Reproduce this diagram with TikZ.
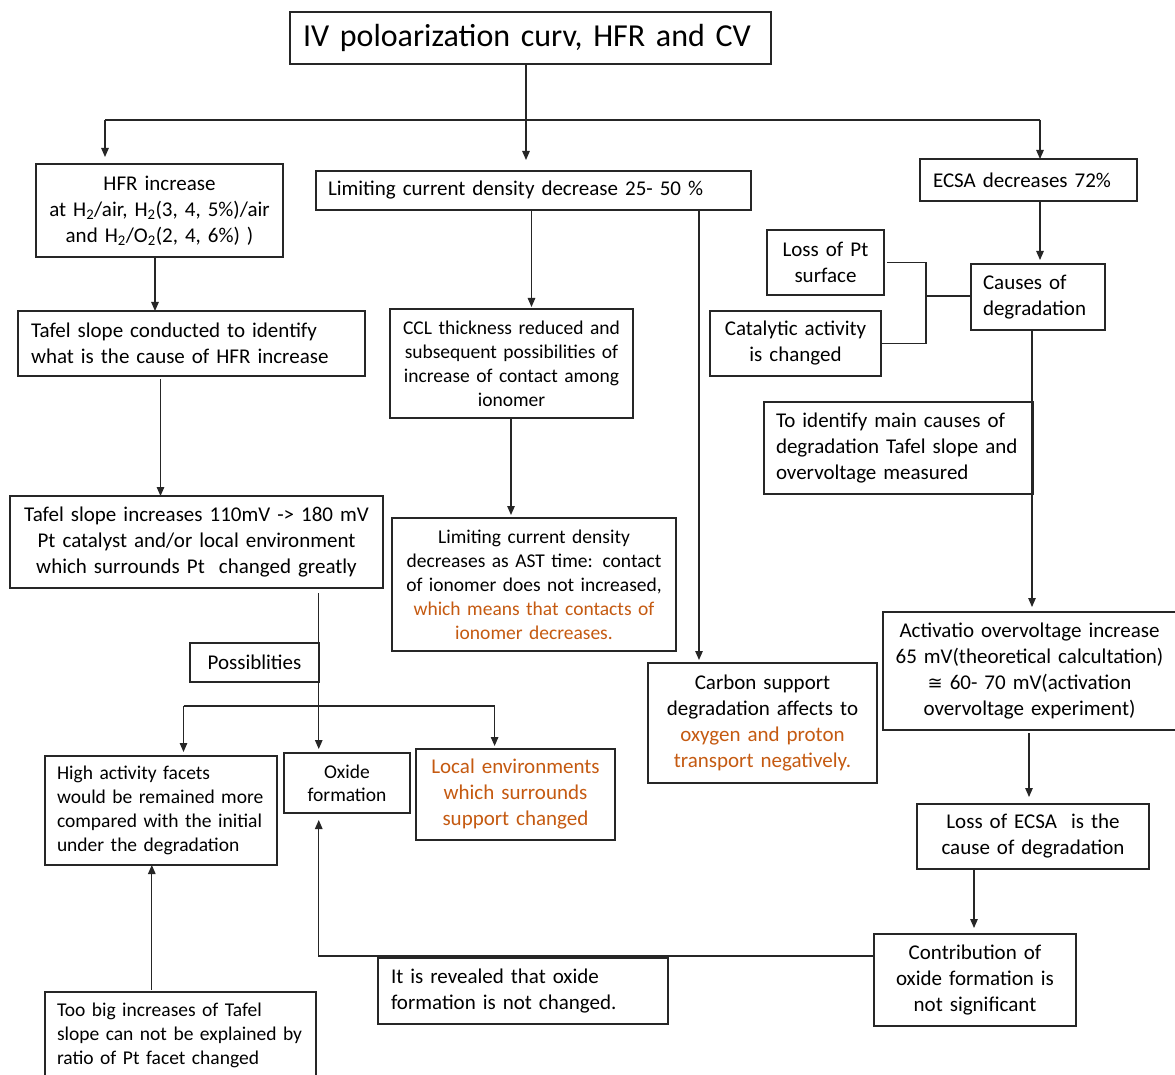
\documentclass[tikz,border=0pt]{standalone}
\usepackage{fontspec}
\setmainfont{Carlito}
\newfontfamily\djv{DejaVu Sans}
\usetikzlibrary{arrows.meta}
\definecolor{orng}{HTML}{C55A11}
\newcommand\fmain{\fontsize{21}{26}\selectfont}
\newcommand\fsmall{\fontsize{19.5}{24}\selectfont}
\newcommand\ftitle{\fontsize{32}{38}\selectfont}
\newcommand\fox{\fontsize{19.5}{23}\selectfont}
\newcommand\bx[9]{%
  \pgfmathsetmacro\bxw{#4-#2}%
  \pgfmathsetmacro\bxh{#5-#3}%
  \pgfmathsetmacro\bxt{#4-#2-2*#6}%
  \node[box,minimum width=\bxw pt,minimum height=\bxh pt,text width=\bxt pt,align=#7,font=#8] (#1) at (#2,#3) {#9};}
\begin{document}
\begin{tikzpicture}[x=1pt,y=-1pt,
  box/.style={draw=black!85,line width=1.2pt,inner sep=0pt,outer sep=0pt,anchor=north west,text=black},
  ln/.style={draw=black!85,line width=1.2pt},
  arr/.style={ln,-{Triangle[length=9pt,width=7.5pt]}}]
\fill[white] (0,0) rectangle (1175,1075);
\useasboundingbox (0,0) rectangle (1175,1075);

\bx{title}{290}{12}{771}{64}{13}{left}{\ftitle}{IV poloarization curv, HFR and CV}
\bx{hfr}{36}{164}{283}{257}{2}{center}{\fmain}{HFR increase\\at H\textsubscript{2}/air, H\textsubscript{2}(3, 4, 5\%)/air\\and H\textsubscript{2}/O\textsubscript{2}(2, 4, 6\%) )}
\bx{lim}{316}{171}{751}{210}{12}{left}{\fmain}{Limiting current density decrease 25- 50 \%}
\bx{ecsa}{920}{159}{1137}{201}{13}{left}{\fmain}{ECSA decreases 72\%}
\bx{tcon}{18}{311}{365}{376}{13}{left}{\fmain}{Tafel slope conducted to identify\\what is the cause of HFR increase}
\bx{tinc}{10}{496}{383}{588}{2}{center}{\fmain}{Tafel slope increases 110mV -{}> 180 mV\\Pt catalyst and/or local environment\\which surrounds Pt\ \ changed greatly}
\bx{ccl}{390}{309}{633}{418}{2}{center}{\fsmall}{CCL thickness reduced and\\subsequent possibilities of\\increase of contact among\\ionomer}
\bx{lim2}{392}{518}{676}{651}{2}{center}{\fsmall}{Limiting current density\\decreases as AST time: contact\\of ionomer does not increased,\\\textcolor{orng}{which means that contacts of}\\\textcolor{orng}{ionomer decreases.}}
\bx{carbon}{648}{663}{877}{783}{2}{center}{\fmain}{Carbon support\\degradation affects to\\\textcolor{orng}{oxygen and proton}\\\textcolor{orng}{transport negatively.}}
\bx{loss}{767}{230}{884}{295}{2}{center}{\fmain}{Loss of Pt\\surface}
\bx{cat}{710}{311}{881}{376}{2}{center}{\fmain}{Catalytic activity\\is changed}
\bx{causes}{971}{264}{1105}{330}{12}{left}{\fmain}{Causes of\\degradation}
\bx{ident}{764}{402}{1033}{494}{12}{left}{\fmain}{To identify main causes of\\degradation Tafel slope and\\overvoltage measured}
\bx{act}{883}{612}{1176}{730}{2}{center}{\fmain}{Activatio overvoltage increase\\65 mV(theoretical calcultation)\\{\djv\fontsize{18}{26}\selectfont ≅} 60- 70 mV(activation\\overvoltage experiment)}
\bx{lecsa}{917}{804}{1149}{869}{2}{center}{\fmain}{Loss of ECSA\ \ is the\\cause of degradation}
\bx{contrib}{874}{934}{1076}{1026}{2}{center}{\fmain}{Contribution of\\oxide formation is\\not significant}
\bx{poss}{190}{643}{319}{682}{2}{center}{\fmain}{Possiblities}
\bx{high}{45}{756}{277}{865}{12}{left}{\fsmall}{High activity facets\\would be remained more\\compared with the initial\\under the degradation}
\bx{oxide}{284}{753}{410}{813}{2}{center}{\fox}{Oxide\\formation}
\bx{local}{416}{749}{615}{840}{2}{center}{\fmain}{\textcolor{orng}{Local environments}\\\textcolor{orng}{which surrounds}\\\textcolor{orng}{support changed}}
\bx{reveal}{378}{958}{668}{1024}{13}{left}{\fmain}{It is revealed that oxide\\formation is not changed.}
\bx{toobig}{45}{992}{316}{1078}{12}{left}{\fsmall}{Too big increases of Tafel\\slope can not be explained by\\ratio of Pt facet changed}

\coordinate (tj) at (526,120);
\coordinate (bl) at (105,120);
\coordinate (br) at (1040,120);
\coordinate (x155) at (155,0);
\coordinate (x160) at (160.5,0);
\coordinate (x531) at (531.5,0);
\coordinate (x511) at (511,0);
\coordinate (x699) at (699,0);
\coordinate (jb) at (926,296);
\coordinate (x1032) at (1032,0);
\coordinate (x1029) at (1029,0);
\coordinate (x974) at (974,0);
\coordinate (j2) at (318.75,956);
\coordinate (bj1) at (183.5,706);
\coordinate (bj2) at (494.6,706);
\coordinate (x152) at (151.8,0);

\draw[ln] (title.south -| tj) -- (tj);
\draw[ln] (bl) -- (br);
\draw[arr, shorten >=7pt] (bl) -- (bl |- hfr.north);
\draw[arr, shorten >=11pt] (tj) -- (tj |- lim.north);
\draw[arr] (br) -- (br |- ecsa.north);
\draw[arr] (hfr.south -| x155) -- (tcon.north -| x155);
\draw[arr, shorten <=3pt] (tcon.south -| x160) -- (tinc.north -| x160);
\draw[arr, shorten >=2pt] (lim.south -| x531) -- (ccl.north -| x531);
\draw[arr, shorten >=3pt] (ccl.south -| x511) -- (lim2.north -| x511);
\draw[arr, shorten >=3pt] (lim.south -| x699) -- (carbon.north -| x699);
\draw[arr, shorten >=4pt] (ecsa.south -| br) -- (causes.north -| br);
\draw[ln] ([xshift=3pt]loss.east) -| (jb);
\draw[ln] (cat.east) -| (jb);
\draw[ln] (jb) -- (jb -| causes.west);
\draw[arr, shorten >=5pt] (causes.south -| x1032) -- (act.north -| x1032);
\draw[arr, shorten <=3pt, shorten >=7pt] (act.south -| x1029) -- (lecsa.north -| x1029);
\draw[arr, shorten >=6pt] (lecsa.south -| x974) -- (contrib.north -| x974);
\draw[arr, shorten >=7pt] (contrib.west |- j2) -- (j2) -- (j2 |- oxide.south);
\draw[arr, shorten <=5pt, shorten >=4pt] (tinc.south -| j2) -- (j2 |- oxide.north);
\draw[ln] (bj1) -- (bj2);
\draw[arr, shorten >=4pt] (bj1) -- (bj1 |- high.north);
\draw[arr, shorten >=3pt] (bj2) -- (bj2 |- local.north);
\draw[arr, shorten <=2pt] (toobig.north -| x152) -- (high.south -| x152);
\end{tikzpicture}
\end{document}
